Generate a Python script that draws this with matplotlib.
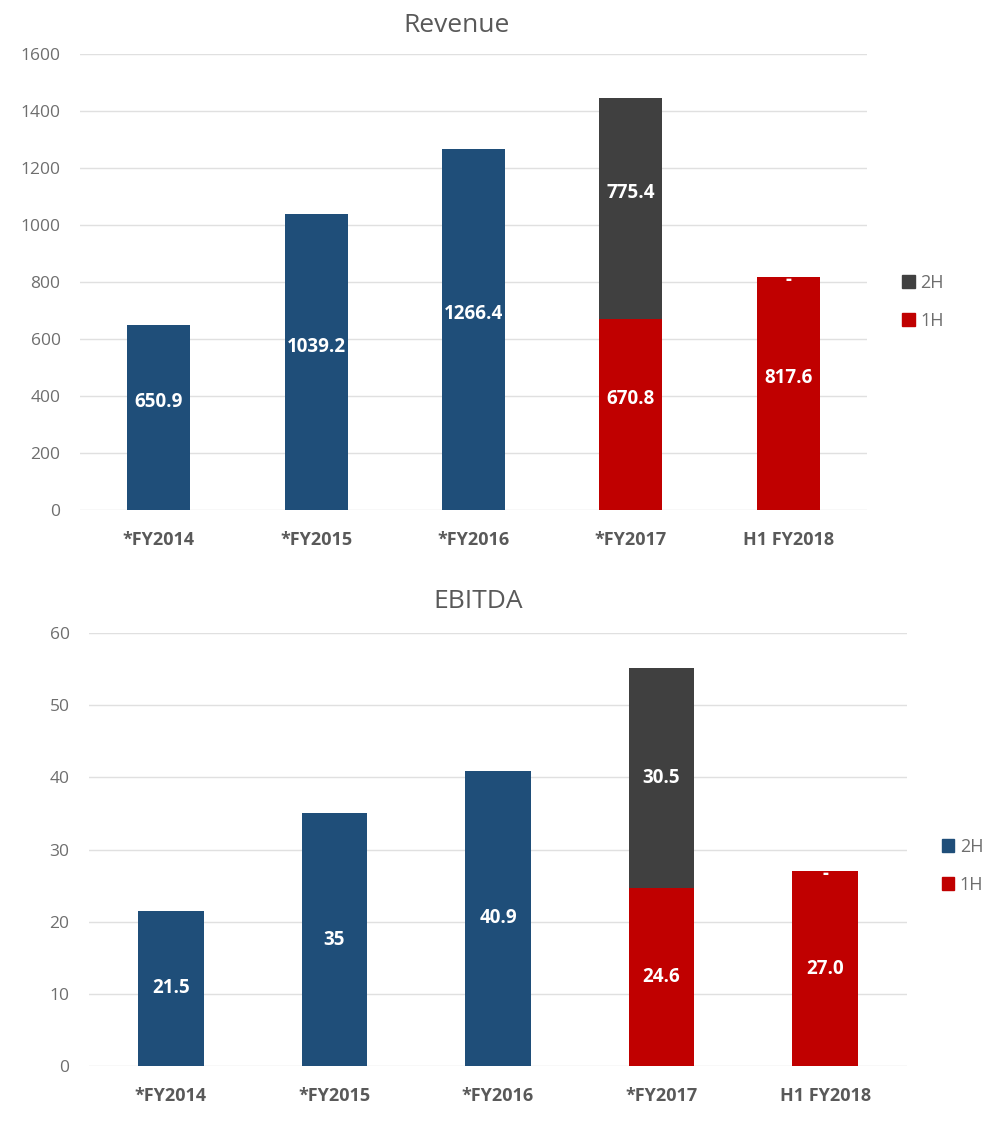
import matplotlib
matplotlib.use("Agg")
import matplotlib.pyplot as plt
from matplotlib.patches import Patch

plt.rcParams['font.family'] = ['Open Sans', 'DejaVu Sans']

# データ
categories = ['*FY2014', '*FY2015', '*FY2016', '*FY2017', 'H1 FY2018']

revenue_1h = [650.9, 1039.2, 1266.4, 670.8, 817.6]
revenue_2h = [0, 0, 0, 775.4, 0]
revenue_labels_1h = ['650.9', '1039.2', '1266.4', '670.8', '817.6']
revenue_labels_2h = [None, None, None, '775.4', '-']

ebitda_1h = [21.5, 35, 40.9, 24.6, 27.0]
ebitda_2h = [0, 0, 0, 30.5, 0]
ebitda_labels_1h = ['21.5', '35', '40.9', '24.6', '27.0']
ebitda_labels_2h = [None, None, None, '30.5', '-']

# 1H の色（通期の年度は青、FY2017以降は赤）
bar_colors_1h = ['#1F4E79', '#1F4E79', '#1F4E79', '#C00000', '#C00000']

BLUE = '#1F4E79'
RED = '#C00000'
GRAY = '#404040'
GRID = '#E0E0E0'
TICK = '#6E6E6E'
CAT = '#595959'


def draw_chart(ax, title, title_pos, v1, v2, lab1, lab2, ymax, ystep, legend_2h_color, label_dy):
    x = list(range(len(categories)))
    ax.bar(x, v1, width=0.4, color=bar_colors_1h, zorder=3)
    ax.bar(x, v2, width=0.4, bottom=v1, color=GRAY, zorder=3)

    for i in x:
        if lab1[i] is not None:
            ax.annotate(lab1[i], (i, v1[i] / 2), xytext=(0, label_dy), textcoords='offset points',
                        ha='center', va='center', color='white', fontsize=13.5, fontweight='bold', zorder=4)
        if lab2[i] is not None:
            ax.annotate(lab2[i], (i, v1[i] + v2[i] / 2), xytext=(0, label_dy if v2[i] else -2),
                        textcoords='offset points',
                        ha='center', va='center', color='white', fontsize=13.5, fontweight='bold', zorder=4)

    ax.set_xlim(-0.5, len(categories) - 0.5)
    ax.set_ylim(0, ymax)
    ax.set_yticks(range(0, ymax + 1, ystep))
    ax.set_xticks(x)
    ax.set_xticklabels(categories, fontsize=13, fontweight='bold', color=CAT)
    ax.tick_params(axis='y', labelsize=12.5, labelcolor=TICK, length=0, pad=14)
    ax.tick_params(axis='x', length=0, pad=15)
    ax.grid(axis='y', color=GRID, linewidth=1.0, zorder=0)
    for s in ax.spines.values():
        s.set_visible(False)
    # タイトルは軸の中心より少し左寄せ
    ax.text(title_pos[0], title_pos[1], title, transform=ax.transAxes, ha='center', va='bottom',
            fontsize=19, color=CAT)

    handles = [Patch(color=legend_2h_color, label='2H'), Patch(color=RED, label='1H')]
    return handles


fig = plt.figure(figsize=(9.92, 11.48), dpi=100)

ax1 = fig.add_axes([0.0806, 0.5557, 0.7934, 0.3973])
h1 = draw_chart(ax1, 'Revenue', (0.478, 1.035), revenue_1h, revenue_2h,
                revenue_labels_1h, revenue_labels_2h, 1600, 200, GRAY, 11)
fig.legend(handles=h1, loc='center left', bbox_to_anchor=(0.893, 0.737), frameon=False,
           fontsize=13, labelcolor=TICK, handlelength=0.7, handleheight=0.7,
           handletextpad=0.3, labelspacing=1.1)

ax2 = fig.add_axes([0.0897, 0.0714, 0.8246, 0.3772])
h2 = draw_chart(ax2, 'EBITDA', (0.476, 1.045), ebitda_1h, ebitda_2h,
                ebitda_labels_1h, ebitda_labels_2h, 60, 10, BLUE, 0)
fig.legend(handles=h2, loc='center left', bbox_to_anchor=(0.933, 0.2456), frameon=False,
           fontsize=13, labelcolor=TICK, handlelength=0.7, handleheight=0.7,
           handletextpad=0.3, labelspacing=1.1)

fig.savefig('out.png', dpi=100)
